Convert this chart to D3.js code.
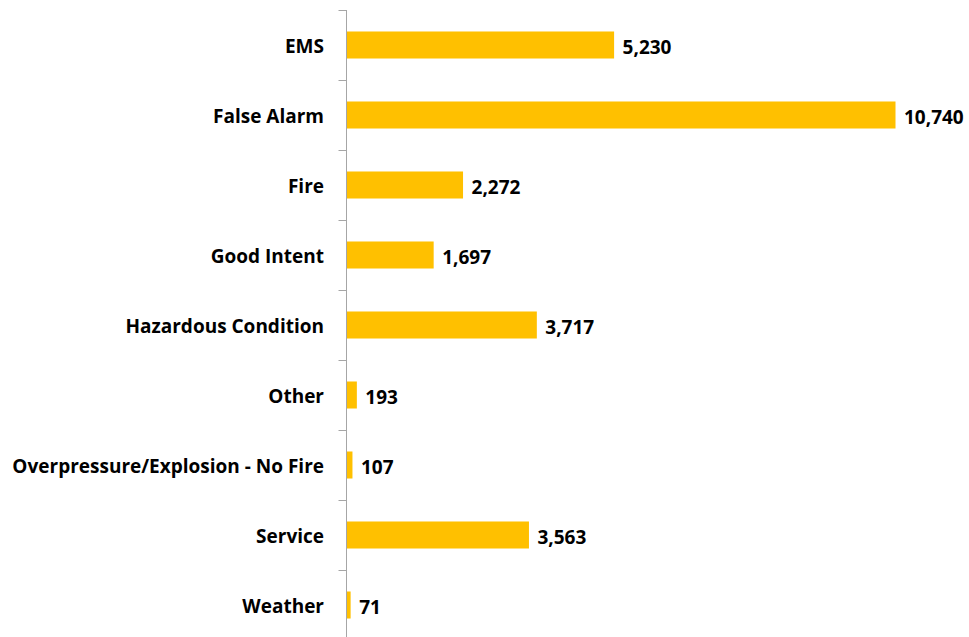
<!DOCTYPE html>
<html><head><meta charset="utf-8">
<script src="https://cdn.jsdelivr.net/npm/d3@7"></script>
<style>body{margin:0;background:#fff}</style>
</head><body>
<script>
const categories = ["EMS","False Alarm","Fire","Good Intent","Hazardous Condition","Other","Overpressure/Explosion - No Fire","Service","Weather"];
const values = [5230,10740,2272,1697,3717,193,107,3563,71];

const W = 969, H = 637;
const svg = d3.select("body").append("svg").attr("width", W).attr("height", H);
const x0 = 346.5;
const x = d3.scaleLinear().domain([0, 10740]).range([x0, 895]);
const y = d3.scaleBand().domain(categories).range([10, 640]).paddingInner(0.614).paddingOuter(0.307);

const font = "'Open Sans', sans-serif";

svg.selectAll("rect.bar").data(values).join("rect")
  .attr("class","bar")
  .attr("x", x0 + 0.5)
  .attr("y", (d,i) => y(categories[i]))
  .attr("width", d => x(d) - x0)
  .attr("height", y.bandwidth())
  .attr("fill", "#FFC000");

// axis
const g = svg.append("g");
g.append("line").attr("x1", x0).attr("x2", x0).attr("y1", 10).attr("y2", 640).attr("stroke", "#A6A6A6").attr("stroke-width", 1);
const bounds = d3.range(categories.length + 1).map(i => 10 + i * y.step());
g.selectAll("line.tick").data(bounds).join("line").attr("class","tick")
  .attr("x1", x0 - 8).attr("x2", x0).attr("y1", d => Math.round(d) + 0.5).attr("y2", d => Math.round(d) + 0.5)
  .attr("stroke", "#A6A6A6");

svg.selectAll("text.cat").data(categories).join("text").attr("class","cat")
  .attr("x", 324).attr("y", d => y(d) + y.bandwidth()/2 + 1)
  .attr("dy", "0.35em").attr("text-anchor", "end")
  .attr("font-family", font).attr("font-weight", "bold").attr("font-size", 19).attr("fill", "#000")
  .text(d => d);

svg.selectAll("text.val").data(values).join("text").attr("class","val")
  .attr("x", d => x(d) + 9).attr("y", (d,i) => y(categories[i]) + y.bandwidth()/2 + 2)
  .attr("dy", "0.35em")
  .attr("font-family", font).attr("font-weight", "bold").attr("font-size", 19).attr("fill", "#000")
  .text(d => d3.format(",")(d));
</script>
</body></html>
